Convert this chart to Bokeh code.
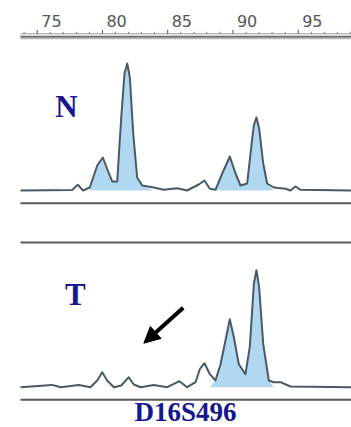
import numpy as np
from bokeh.plotting import figure
from bokeh.models import Range1d, Arrow, NormalHead, ColumnDataSource
from bokeh.core.properties import value
from bokeh.embed import file_html
from bokeh.resources import INLINE

# ---------------- data ----------------
tick_values = [75, 80, 85, 90, 95]
tick_labels = ["75", "80", "85", "90", "95"]
minor_tick_values = list(range(74, 100))

# N (normal) trace: fragment size (bp) and signal height
n_size = [73.72, 77.68, 78.11, 78.52, 79.03, 79.60, 80.03, 80.41, 80.75, 81.13,
          81.44, 81.69, 81.90, 82.10, 82.36, 82.66, 83.05, 83.93, 84.70, 85.73,
          86.49, 87.38, 87.82, 88.23, 88.66, 89.18, 89.76, 90.20, 90.58, 91.09,
          91.40, 91.60, 91.80, 92.01, 92.32, 92.62, 93.13, 94.03, 94.41, 94.79,
          95.18, 99.08]
n_height = [0, 0.5, 5.7, 0, 3, 25, 33, 20, 9, 9,
            73, 117, 127, 113, 57, 13, 5, 3, 0.7, 2.3,
            0, 6, 10, 1.7, 0.7, 17, 34, 17, 5, 7,
            43, 65, 73, 62, 27, 7, 3, 1.7, 0, 4,
            0.7, 0]

# T (tumour) trace
t_size = [73.72, 76.15, 76.79, 78.19, 79.08, 79.60, 79.98, 80.36, 80.87, 81.44,
          82.02, 82.40, 82.92, 83.93, 84.96, 85.90, 86.49, 87.13, 87.46, 87.82,
          88.23, 88.66, 89.05, 89.43, 89.76, 90.07, 90.45, 90.96, 91.29, 91.60,
          91.80, 92.01, 92.32, 92.75, 93.13, 93.64, 94.41, 99.08]
t_height = [0, 2.3, 0, 2.3, 0, 6.7, 15, 6.7, 0, 1.7,
            10, 2.7, 0, 2.3, 0, 6, 0, 5, 18, 24,
            13, 6.7, 23, 47, 68, 50, 23, 13, 40, 103,
            117, 100, 43, 6.7, 5, 5, 0.7, 0]

n_fill_ranges = [(79.1, 83.1), (88.7, 92.7)]
t_fill_ranges = [(88.6, 93.1)]

panel_labels = ["N", "T"]
marker_name = "D16S496"
arrow_tail = (86.19, 79.4)   # (bp, height) in T panel
arrow_tip = (83.17, 44.0)

# ---------------- layout constants ----------------
X_START, X_END = 72.188, 99.085
LINE_START = 73.72
Y_END = 427.0
RULER_Y = 393.7
MAJOR_LEN, MINOR_LEN = 4.0, 2.0
N_BASE = 237.0
T_BASE = 40.3
TRACE_COLOR = "#4a5966"
FILL_COLOR = "#a9d4f0"
TEXT_COLOR = "#16168e"

p = figure(width=351, height=427, x_range=Range1d(X_START, X_END), y_range=Range1d(0, Y_END),
           output_backend="svg", toolbar_location=None, x_axis_location=None,
           y_axis_location=None, min_border=0,
           background_fill_color="white", border_fill_color="white")
p.outline_line_color = None
p.xgrid.visible = False
p.ygrid.visible = False
p.title.visible = False

# ---- ruler (size scale in bp) ----
minor_only = [m for m in minor_tick_values if m not in tick_values]
p.segment(x0=[LINE_START], x1=[X_END], y0=[RULER_Y], y1=[RULER_Y], line_color="#9a9a9a", line_width=1)
p.segment(x0=minor_only, x1=minor_only, y0=[RULER_Y] * len(minor_only),
          y1=[RULER_Y + MINOR_LEN] * len(minor_only), line_color="#777777", line_width=1)
p.segment(x0=tick_values, x1=tick_values, y0=[RULER_Y] * len(tick_values),
          y1=[RULER_Y + MAJOR_LEN] * len(tick_values), line_color="#555555", line_width=1)
p.text(x=tick_values, y=[RULER_Y + 13.0] * len(tick_values), text=tick_labels, x_offset=4,
       text_font=value("DejaVu Sans"), text_font_size="16px", text_color="#555555",
       text_align="left", text_baseline="middle")

# separator lines
p.segment(x0=[LINE_START], x1=[X_END], y0=[390.8], y1=[390.8], line_color="#6a6a6a", line_width=2)
p.segment(x0=[LINE_START], x1=[X_END], y0=[389.0], y1=[389.0], line_color="#b8b8b8", line_width=1.5)
for yy in [224.3, 185.0, 27.7]:
    p.segment(x0=[LINE_START], x1=[X_END], y0=[yy], y1=[yy], line_color="#5a5a5a", line_width=2)


def masked(size, height, ranges):
    s = np.array(size)
    h = np.array(height, dtype=float)
    m = np.zeros_like(s, dtype=bool)
    for a, b in ranges:
        m |= (s >= a) & (s <= b)
    return np.where(m, h, 0.0)


for size, height, ranges, base in [(n_size, n_height, n_fill_ranges, N_BASE),
                                   (t_size, t_height, t_fill_ranges, T_BASE)]:
    src = ColumnDataSource(dict(x=size,
                                y=np.array(height) + base,
                                yf=masked(size, height, ranges) + base,
                                b=np.full(len(size), base)))
    p.varea(x="x", y1="b", y2="yf", source=src, fill_color=FILL_COLOR, fill_alpha=0.9)
    p.line(x="x", y="y", source=src, line_color=TRACE_COLOR, line_width=2.0, line_join="round")

# labels (y = vertical centre of the capitals)
p.text(x=[77.25, 77.93], y=[321.0, 133.0], text=panel_labels, text_font=value("Liberation Serif"),
       text_font_style="bold", text_font_size="31px", text_color=TEXT_COLOR,
       text_align="center", text_baseline="middle")
p.text(x=[86.36], y=[16.0], text=[marker_name], text_font=value("Liberation Serif"),
       text_font_style="bold", text_font_size="27px", text_color=TEXT_COLOR,
       text_align="center", text_baseline="middle")

p.add_layout(Arrow(x_start=arrow_tail[0], y_start=arrow_tail[1] + T_BASE,
                   x_end=arrow_tip[0], y_end=arrow_tip[1] + T_BASE,
                   line_color="black", line_width=4,
                   end=NormalHead(size=16, fill_color="black", line_color="black")))

open("out.html", "w").write(file_html(p, INLINE))
